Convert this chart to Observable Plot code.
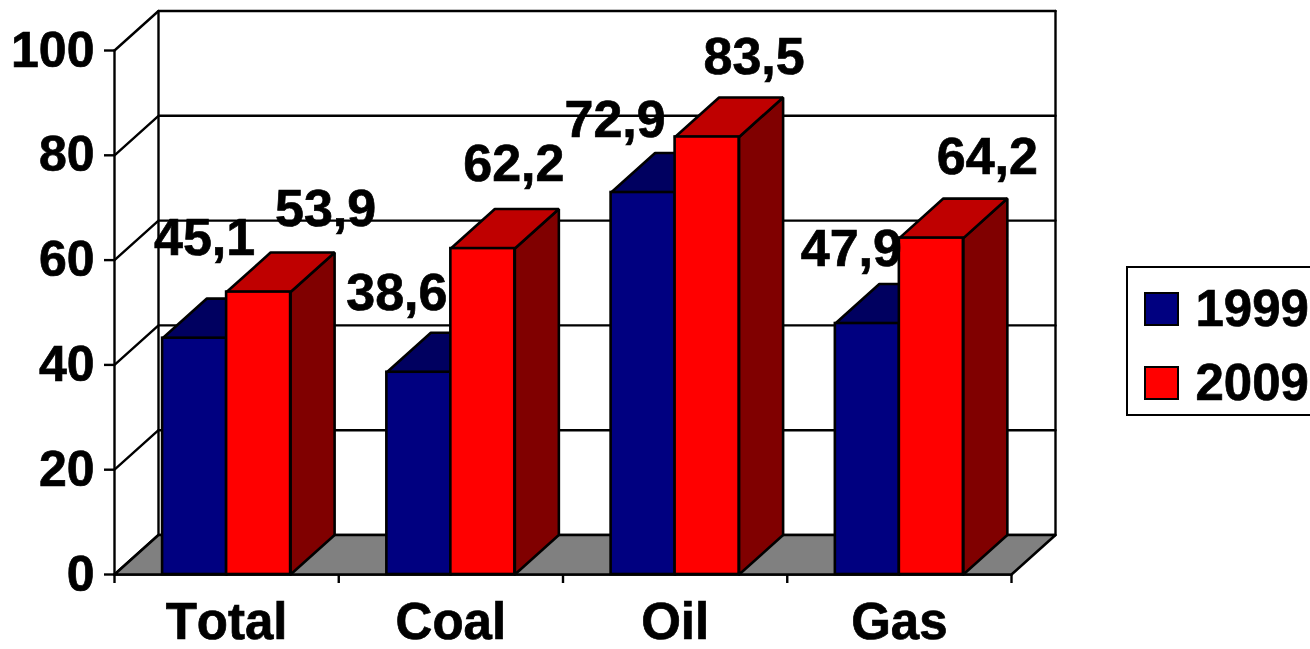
<!DOCTYPE html>
<html>
<head>
<meta charset="utf-8">
<script src="https://cdn.jsdelivr.net/npm/d3@7"></script>
<script src="https://cdn.jsdelivr.net/npm/@observablehq/plot@0.6"></script>
<style>
html,body{margin:0;padding:0;background:#fff;width:1310px;height:649px;overflow:hidden;position:relative}
svg{display:block}
svg text{stroke:#000;stroke-width:.7px;font-kerning:none}
#legend{position:absolute;left:1125.5px;top:265.5px;width:220px;height:150px;border:2.4px solid #000;box-sizing:border-box;background:#fff;font:bold 51px "Liberation Sans",Arial,sans-serif;color:#000;-webkit-text-stroke:.7px #000}
#legend .s{position:absolute;left:16px;width:35px;height:34px;border:2.4px solid #000;box-sizing:border-box}
#legend .t{position:absolute;left:68px;line-height:51px}
</style>
</head>
<body>
<div id="chart"></div>
<script>
const categories = ["Total", "Coal", "Oil", "Gas"];
const years = ["1999", "2009"];
const values1999 = [45.1, 38.6, 72.9, 47.9];
const values2009 = [53.9, 62.2, 83.5, 64.2];
const yTicks = [0, 20, 40, 60, 80, 100];

// Oblique projection of the chart's depth, in data units
const depthX = 0.1962, depthY = 7.54;
const barWidth = 0.2854, barStart = 0.2145;
const n = categories.length;
const series = [
  {values: values1999, front: "#000080", top: "#000060", side: "#000040", key: 0},
  {values: values2009, front: "#ff0000", top: "#bf0000", side: "#800000", key: 1}
];
const fontFamily = '"Liberation Sans", Arial, sans-serif';

const polys = [];
let pid = 0;
const poly = (pts, color) => {
  const id = pid++;
  [...pts, pts[0]].forEach(([x, y]) => polys.push({id, x, y, color}));
};
const bars = [];
poly([[0,0],[n,0],[n+depthX,depthY],[depthX,depthY]], "#808080");
categories.forEach((c, i) => series.forEach(s => {
  const x1 = i + barStart + s.key * barWidth, x2 = x1 + barWidth, v = s.values[i];
  bars.push({x1, x2, v, color: s.front, cx: (x1 + x2) / 2, label: v.toFixed(1).replace(".", ",")});
  poly([[x2,0],[x2+depthX,depthY],[x2+depthX,v+depthY],[x2,v]], s.side);
  poly([[x1,v],[x2,v],[x2+depthX,v+depthY],[x1+depthX,v+depthY]], s.top);
}));

// Frame lines: wall grid, wall edges
const frame = [];
yTicks.forEach(t => {
  frame.push({id:"g"+t,x:0,y:t},{id:"g"+t,x:depthX,y:t+depthY},{id:"g"+t,x:n+depthX,y:t+depthY});
});
[[depthX,"b"],[n+depthX,"r"]].forEach(([x,k]) => {
  frame.push({id:k,x,y:depthY},{id:k,x,y:100+depthY});
});
frame.push({id:"a",x:0,y:0},{id:"a",x:0,y:100});
frame.push({id:"f",x:0,y:0},{id:"f",x:n,y:0});

// Hand placement of the value labels, as in the source chart
const labelNudges = [
  [10,-83],[67,-66],[-22,-62],[31,-68],[-28,-56],[47,-63],[-16,-58],[56,-64]
];

const plot = Plot.plot({
  width: 1310, height: 649,
  marginLeft: 114, marginRight: 255, marginTop: 10.5, marginBottom: 75,
  style: {background: "transparent", overflow: "visible"},
  x: {domain: [0, n + depthX], axis: null},
  y: {domain: [0, 100 + depthY], axis: null},
  color: {type: "identity"},
  marks: [
    Plot.line(frame, {x:"x", y:"y", z:"id", stroke:"#000", strokeWidth:2.4}),
    Plot.line(polys, {x:"x", y:"y", z:"id", fill:"color", stroke:"#000", strokeWidth:2.6, strokeLinejoin:"miter"}),
    Plot.rect(bars, {x1:"x1", x2:"x2", y1:0, y2:"v", fill:"color", stroke:"#000", strokeWidth:2.6}),
    Plot.axisY({ticks:yTicks, tickSize:10, tickPadding:10, label:null, fontSize:50, fontWeight:"bold", fontFamily, stroke:"#000", strokeWidth:2.4, color:"#000"}),
    Plot.axisX({ticks:d3.range(n+1), tickSize:9, tickFormat:()=>"", label:null, stroke:"#000", strokeWidth:2.4}),
    Plot.axisX({ticks:categories.map((c,i)=>i+0.5), tickSize:0, tickPadding:28, tickFormat:(d)=>categories[Math.floor(d)], label:null, fontSize:51, fontWeight:"bold", fontFamily, lineAnchor:"top"}),
    ...bars.map((b,i) => Plot.text([b], {x:"cx", y:"v", text:"label", dx:labelNudges[i][0], dy:labelNudges[i][1], fontSize:52, fontWeight:"bold", fontFamily, fill:"#000", lineAnchor:"bottom", textAnchor:"middle"}))
  ]
});
document.getElementById("chart").appendChild(plot);

const legend = document.createElement("div");
legend.id = "legend";
series.forEach((s, i) => {
  const sw = document.createElement("div");
  sw.className = "s"; sw.style.background = s.front; sw.style.top = (24 + i*74) + "px";
  const t = document.createElement("div");
  t.className = "t"; t.textContent = years[i]; t.style.top = (15 + i*74) + "px";
  legend.append(sw, t);
});
document.body.appendChild(legend);
</script>
</body>
</html>
